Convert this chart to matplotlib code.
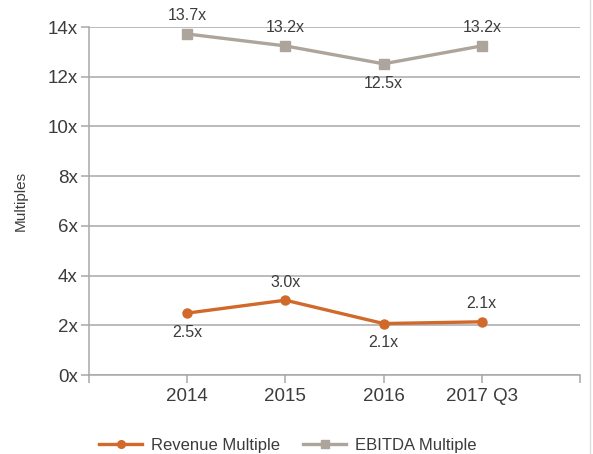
import numpy as np
import matplotlib.pyplot as plt

plt.rcParams['font.family'] = ['Liberation Sans', 'DejaVu Sans']

# data
categories = ['2014', '2015', '2016', '2017 Q3']
revenue = [2.49, 3.01, 2.07, 2.14]
ebitda = [13.72, 13.24, 12.52, 13.24]
revenue_labels = ['2.5x', '3.0x', '2.1x', '2.1x']
ebitda_labels = ['13.7x', '13.2x', '12.5x', '13.2x']
revenue_pos = ['below', 'above', 'below', 'above']
ebitda_pos = ['above', 'above', 'below', 'above']

orange = '#d0692a'
taupe = '#ada49b'
grid_c = '#a8a8ab'
text_c = '#3c3c3c'

fig = plt.figure(figsize=(5.93, 4.54), dpi=100)
ax = fig.add_axes([0.150, 0.174, 0.828, 0.7665])

x = np.arange(1, len(categories) + 1)
ax.plot(x, revenue, color=orange, lw=2.4, marker='o', ms=6.5, label='Revenue Multiple')
ax.plot(x, ebitda, color=taupe, lw=2.4, marker='s', ms=6.5, label='EBITDA Multiple')

for xi, v, lab, pos in zip(x, revenue, revenue_labels, revenue_pos):
    off = 13 if pos == 'above' else -14
    ax.annotate(lab, (xi, v), xytext=(0, off), textcoords='offset points',
                ha='center', va='center', fontsize=11.5, color=text_c)
for xi, v, lab, pos in zip(x, ebitda, ebitda_labels, ebitda_pos):
    off = 13 if pos == 'above' else -14
    ax.annotate(lab, (xi, v), xytext=(0, off), textcoords='offset points',
                ha='center', va='center', fontsize=11.5, color=text_c,
                annotation_clip=False)

ax.set_xlim(0, 5)
ax.set_ylim(0, 14)
ax.set_yticks(np.arange(0, 15, 2))
ax.set_yticklabels([f'{v}x' for v in range(0, 15, 2)])
ax.set_xticks(np.arange(0, 6))
ax.set_xticklabels([''] + categories + [''])
ax.yaxis.grid(True, color=grid_c, lw=1.1)
ax.set_axisbelow(True)
for s in ['top', 'right']:
    ax.spines[s].set_visible(False)
for s in ['left', 'bottom']:
    ax.spines[s].set_color(grid_c)
    ax.spines[s].set_linewidth(1.1)
ax.tick_params(axis='both', colors=grid_c, width=1.1, length=6, labelcolor=text_c, labelsize=13.5)
ax.tick_params(axis='y', pad=2)
ax.set_ylabel('Multiples', fontsize=11, color=text_c, labelpad=14)

fig.legend(loc='lower center', bbox_to_anchor=(0.485, -0.03), ncol=2, frameon=False,
           fontsize=12, handlelength=2.6, handletextpad=0.5, columnspacing=1.4,
           labelcolor=text_c, markerscale=0.85)
fig.add_artist(plt.Line2D([0.995, 0.995], [0, 1], color='#dddddd', lw=1))

fig.savefig('out.png', dpi=100)
